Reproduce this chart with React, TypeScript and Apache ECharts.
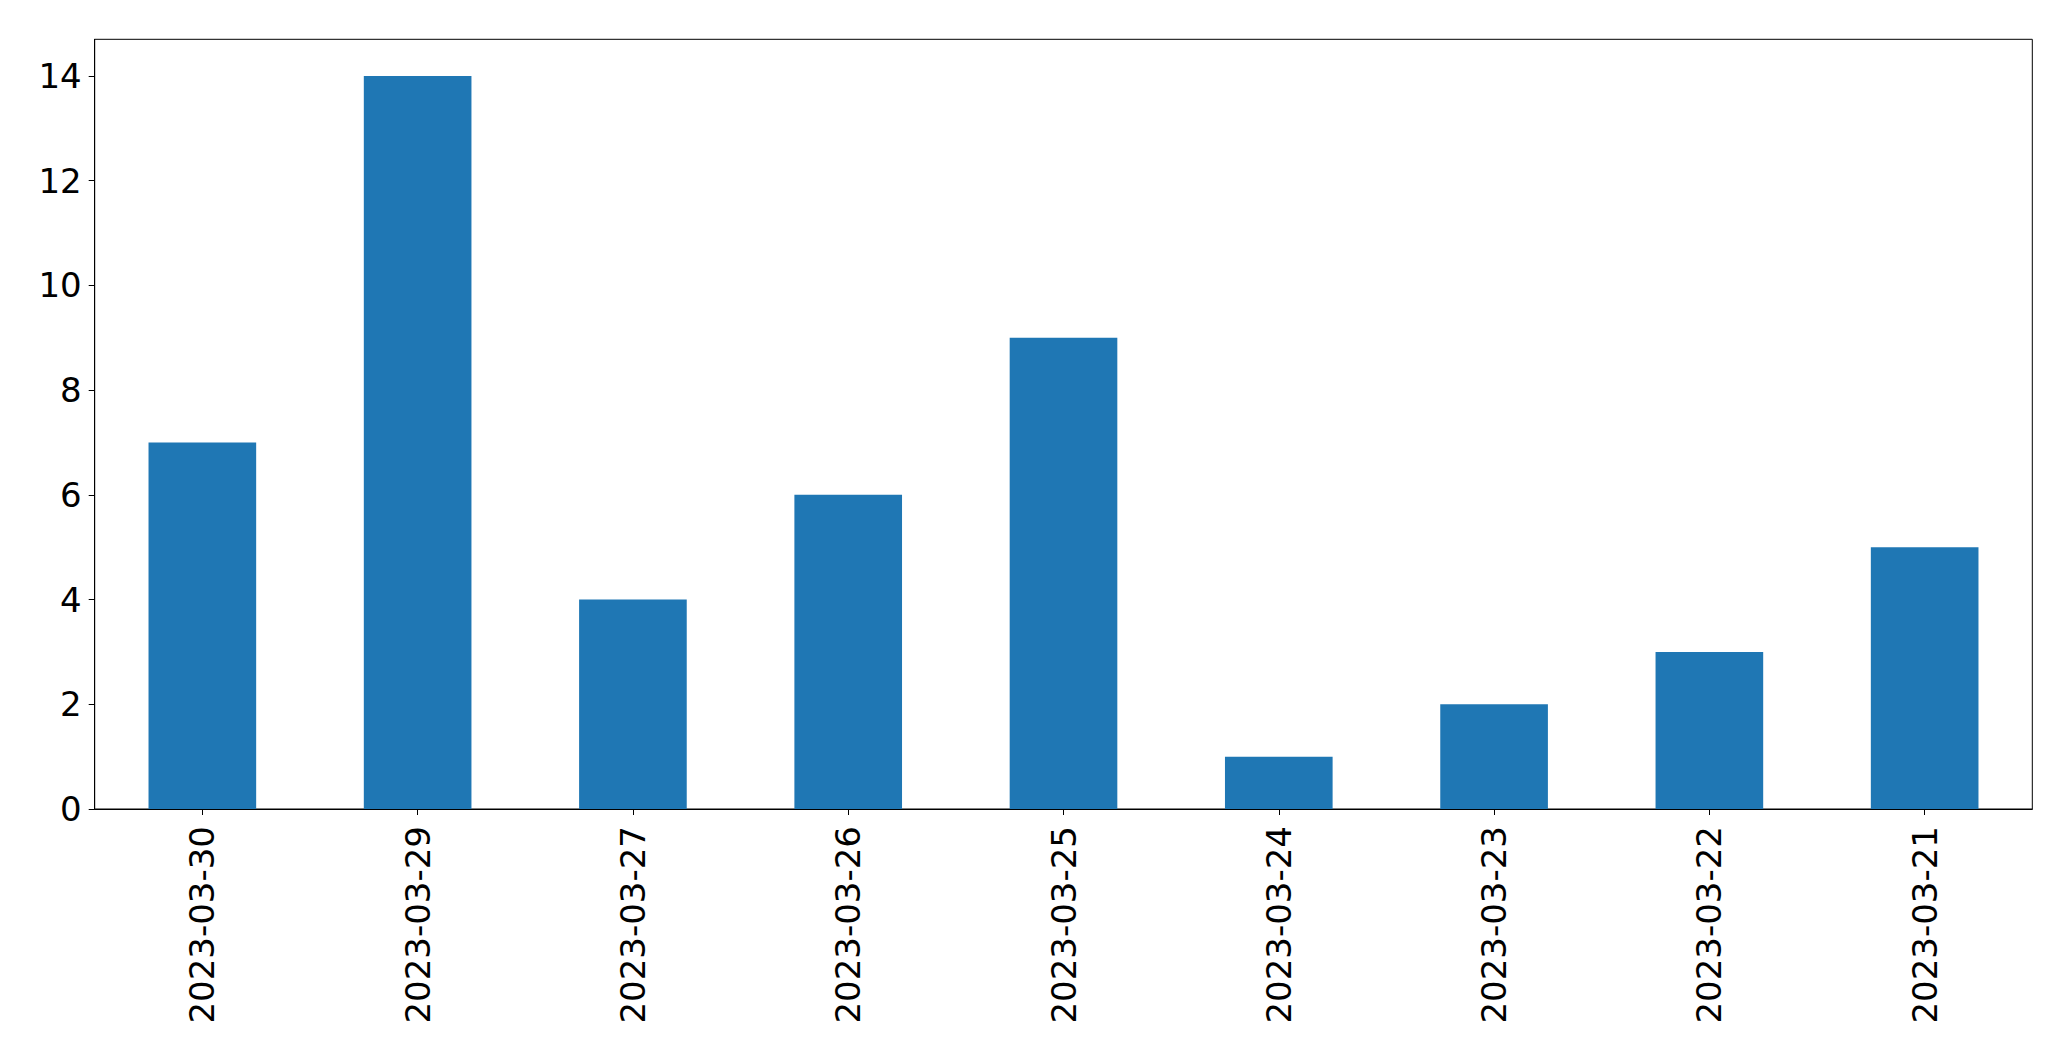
import React, { useEffect, useRef } from "react";
import * as echarts from "echarts";

const categories = [
  "2023-03-30",
  "2023-03-29",
  "2023-03-27",
  "2023-03-26",
  "2023-03-25",
  "2023-03-24",
  "2023-03-23",
  "2023-03-22",
  "2023-03-21",
];
const counts = [7, 14, 4, 6, 9, 1, 2, 3, 5];
const yTicks = [0, 2, 4, 6, 8, 10, 12, 14];
const yMax = 14.7;

export default function App() {
  const ref = useRef<HTMLDivElement>(null);
  useEffect(() => {
    if (!ref.current) return;
    const chart = echarts.init(ref.current, null, { renderer: "svg" });
    const font = "DejaVu Sans";
    chart.setOption({
      animation: false,
      backgroundColor: "#ffffff",
      grid: {
        left: 94.7,
        right: 38.7,
        top: 39.3,
        bottom: 252,
        show: true,
        borderColor: "#000000",
        borderWidth: 1,
        backgroundColor: "transparent",
      },
      xAxis: {
        type: "category",
        data: categories,
        boundaryGap: true,
        axisLine: { show: true, lineStyle: { color: "#000000", width: 1 } },
        axisTick: {
          show: true,
          alignWithLabel: true,
          length: 6,
          lineStyle: { color: "#000000", width: 1 },
        },
        axisLabel: {
          rotate: 90,
          margin: 17,
          color: "#000000",
          fontFamily: font,
          fontSize: 34,
          interval: 0,
        },
        splitLine: { show: false },
      },
      yAxis: {
        type: "value",
        min: 0,
        max: yMax,
        interval: 2,
        axisLine: { show: true, lineStyle: { color: "#000000", width: 1 } },
        axisTick: {
          show: true,
          length: 6,
          customValues: yTicks,
          lineStyle: { color: "#000000", width: 1 },
        },
        axisLabel: {
          margin: 13,
          color: "#000000",
          fontFamily: font,
          fontSize: 34,
          customValues: yTicks,
        },
        splitLine: { show: false },
      },
      series: [
        {
          type: "bar",
          data: counts,
          barWidth: "50%",
          itemStyle: { color: "#1f77b4" },
        },
      ],
    });
    return () => chart.dispose();
  }, []);
  return (
    <div
      ref={ref}
      style={{ position: "fixed", left: 0, top: 0, width: 2071, height: 1061, background: "#fff" }}
    />
  );
}
